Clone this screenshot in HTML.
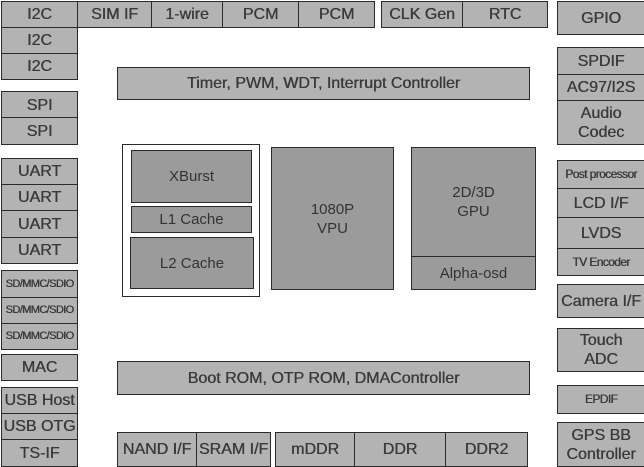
<!DOCTYPE html>
<html><head><meta charset="utf-8"><style>
body{margin:0;width:644px;height:467px;background:#fff;position:relative;overflow:hidden;font-family:"Liberation Sans",Arial,sans-serif;}
.b{position:absolute;box-sizing:border-box;border:1.5px solid #2a2a2a;background:#b3b3b3;color:#3a3a3a;display:flex;align-items:center;justify-content:center;text-align:center;font-size:16px;line-height:19px;font-weight:normal;white-space:nowrap;text-shadow:0.4px 0 0 #3a3a3a;}
.d{background:#9b9b9b;color:#333;text-shadow:none;font-size:15px;}
.s{font-size:11px;letter-spacing:-0.6px;}
.w{background:#fff;}
</style></head><body>
<div class="b" style="left:1px;top:1px;width:77px;height:27px">I2C</div>
<div class="b" style="left:77px;top:1px;width:75px;height:27px">SIM IF</div>
<div class="b" style="left:151px;top:1px;width:72px;height:27px">1-wire</div>
<div class="b" style="left:222px;top:1px;width:77px;height:27px">PCM</div>
<div class="b" style="left:298px;top:1px;width:77px;height:27px">PCM</div>
<div class="b" style="left:381px;top:1px;width:82px;height:27px">CLK Gen</div>
<div class="b" style="left:462px;top:1px;width:86px;height:27px">RTC</div>
<div class="b" style="left:1px;top:27px;width:77px;height:27px">I2C</div>
<div class="b" style="left:1px;top:53px;width:77px;height:27px">I2C</div>
<div class="b" style="left:1px;top:91px;width:77px;height:28px">SPI</div>
<div class="b" style="left:1px;top:117px;width:77px;height:28px">SPI</div>
<div class="b" style="left:1px;top:158px;width:77px;height:27px">UART</div>
<div class="b" style="left:1px;top:184px;width:77px;height:27px">UART</div>
<div class="b" style="left:1px;top:210px;width:77px;height:28px">UART</div>
<div class="b" style="left:1px;top:237px;width:77px;height:27px">UART</div>
<div class="b s" style="left:1px;top:270px;width:77px;height:28px">SD/MMC/SDIO</div>
<div class="b s" style="left:1px;top:297px;width:77px;height:27px">SD/MMC/SDIO</div>
<div class="b s" style="left:1px;top:323px;width:77px;height:27px">SD/MMC/SDIO</div>
<div class="b" style="left:1px;top:354px;width:77px;height:27px">MAC</div>
<div class="b" style="left:1px;top:387px;width:77px;height:27px">USB Host</div>
<div class="b" style="left:1px;top:413px;width:77px;height:27px">USB OTG</div>
<div class="b" style="left:1px;top:439px;width:77px;height:28px">TS-IF</div>
<div class="b" style="left:557px;top:1px;width:88px;height:34px">GPIO</div>
<div class="b" style="left:557px;top:47px;width:88px;height:28px">SPDIF</div>
<div class="b" style="left:557px;top:74px;width:88px;height:27px">AC97/I2S</div>
<div class="b" style="left:557px;top:100px;width:88px;height:45px">Audio<br>Codec</div>
<div class="b s" style="left:557px;top:160px;width:88px;height:29px;font-size:12px">Post processor</div>
<div class="b" style="left:557px;top:188px;width:88px;height:30px">LCD I/F</div>
<div class="b" style="left:557px;top:217px;width:88px;height:32px">LVDS</div>
<div class="b s" style="left:557px;top:248px;width:88px;height:28px;font-size:12px">TV Encoder</div>
<div class="b" style="left:557px;top:284px;width:88px;height:34px">Camera I/F</div>
<div class="b" style="left:557px;top:328px;width:88px;height:44px">Touch<br>ADC</div>
<div class="b s" style="left:557px;top:385px;width:88px;height:29px;font-size:12px">EPDIF</div>
<div class="b" style="left:557px;top:422px;width:88px;height:45px">GPS BB<br>Controller</div>
<div class="b" style="left:117px;top:67px;width:413px;height:33px">Timer, PWM, WDT, Interrupt Controller</div>
<div class="b" style="left:117px;top:361px;width:413px;height:34px">Boot ROM, OTP ROM, DMAController</div>
<div class="b w" style="left:122px;top:144px;width:138px;height:153px"></div>
<div class="b d" style="left:131px;top:150px;width:121px;height:53px">XBurst</div>
<div class="b d" style="left:131px;top:206px;width:121px;height:27px">L1 Cache</div>
<div class="b d" style="left:130px;top:237px;width:124px;height:52px">L2 Cache</div>
<div class="b d" style="left:271px;top:147px;width:123px;height:143px">1080P<br>VPU</div>
<div class="b d" style="left:411px;top:147px;width:125px;height:110px">2D/3D<br>GPU</div>
<div class="b d" style="left:411px;top:256px;width:125px;height:34px">Alpha-osd</div>
<div class="b" style="left:117px;top:432px;width:80px;height:35px">NAND I/F</div>
<div class="b" style="left:196px;top:432px;width:75px;height:35px">SRAM I/F</div>
<div class="b" style="left:275px;top:432px;width:80px;height:35px">mDDR</div>
<div class="b" style="left:354px;top:432px;width:92px;height:35px">DDR</div>
<div class="b" style="left:445px;top:432px;width:83px;height:35px">DDR2</div>
</body></html>
